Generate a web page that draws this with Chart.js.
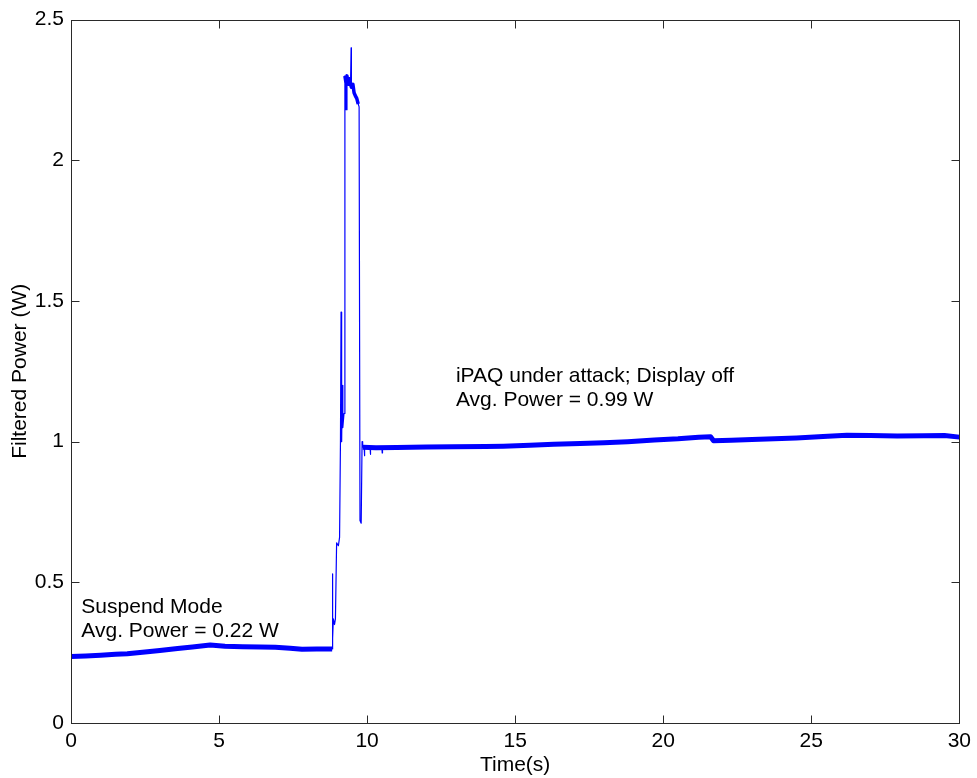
<!DOCTYPE html>
<html>
<head>
<meta charset="utf-8">
<script src="https://cdn.jsdelivr.net/npm/chart.js@4/dist/chart.umd.min.js"></script>
<style>
  html, body { margin: 0; padding: 0; background: #fff; }
  #wrap { width: 977px; height: 778px; }
</style>
</head>
<body>
<div id="wrap"><canvas id="power-chart"></canvas></div>
<script>
// =========================
//  DATA
// =========================
// suspend mode, t = 0 .. 8.82 s
const suspendTime  = [0, 0.5, 1, 1.5, 1.9, 2.5, 3, 3.6, 4.1, 4.7, 5.2, 5.8, 6.4, 6.9, 7.4, 7.8, 8.3, 8.82];
const suspendPower = [0.236, 0.238, 0.241, 0.244, 0.246, 0.252, 0.258, 0.265, 0.27, 0.277, 0.273, 0.271, 0.27, 0.269, 0.266, 0.262, 0.263, 0.263];

// wake-up / attack burst, t = 8.82 .. 10.5 s (incl. the short dips just after it)
const burstTime  = [8.82, 8.83, 8.84, 8.86, 8.9, 8.93, 8.97, 9.03, 9.07, 9.1, 9.12, 9.13, 9.14, 9.15, 9.16, 9.18, 9.22,
                    9.25, 9.28, 9.29, 9.32, 9.36, 9.4, 9.44, 9.46, 9.47, 9.52, 9.56, 9.6, 9.65, 9.7, 9.73,
                    9.76, 9.8, 9.83, 9.85, 9.9, 9.91, 9.92, 10.1, 10.11, 10.12, 10.5, 10.51, 10.52];
const burstPower = [0.263, 0.53, 0.30, 0.37, 0.35, 0.37, 0.64, 0.63, 0.66, 1.0, 1.46, 1.1, 1.27, 1.0, 1.2, 1.05, 1.1,
                    2.30, 2.28, 2.18, 2.30, 2.27, 2.29, 2.27, 2.40, 2.26, 2.27, 2.24, 2.23, 2.22, 2.20, 2.19,
                    0.72, 0.71, 1.0, 0.98, 0.98, 0.95, 0.98, 0.978, 0.955, 0.978, 0.979, 0.96, 0.979];

// attack with display off, t = 9.85 .. 30 s
const attackTime  = [9.85, 10.3, 11, 12, 12.9, 14, 14.6, 15.5, 16.3, 17.2, 18, 18.8, 19.7,
                     20.5, 21.2, 21.6, 21.7, 22.3, 23, 24, 24.5, 25.4, 26.2, 27, 27.9, 28.8, 29.5, 30];
const attackPower = [0.98, 0.978, 0.979, 0.981, 0.982, 0.983, 0.984, 0.987, 0.991, 0.993, 0.996, 1.0, 1.006,
                     1.01, 1.016, 1.017, 1.003, 1.005, 1.008, 1.011, 1.013, 1.018, 1.023, 1.022, 1.02, 1.021, 1.022, 1.016];

const xTicks = { min: 0, max: 30, step: 5 };
const yTicks = { min: 0, max: 2.5, step: 0.5 };

const notes = [
    { x: 0.35, y: 0.39,  lines: ["Suspend Mode", "Avg. Power = 0.22 W"] },
    { x: 13.0, y: 1.213, lines: ["iPAQ under attack; Display off", "Avg. Power = 0.99 W"] }
];

// =========================
//  HELPERS
// =========================
const FONT = "'Liberation Sans', Arial, sans-serif";
const FONT_SIZE = 21;
const LINE_BLUE = "#0000ff";

function toPoints(xs, ys) {
    return xs.map((x, i) => ({ x, y: ys[i] }));
}

function lineSet(points, width) {
    return {
        data: points,
        borderColor: LINE_BLUE,
        borderWidth: width,
        pointRadius: 0,
        tension: 0,
        fill: false,
        borderJoinStyle: "round"
    };
}

// the dense high-power plateau shows up as a thick band (without its single 2.4 W spike and dips)
const plateauPoints = toPoints(burstTime, burstPower)
    .filter(p => p.x >= 9.25 && p.x <= 9.73 && p.y > 2.19 && p.y < 2.35);

// MATLAB-like box with inward ticks on all four sides, plus text notes
const boxPlugin = {
    id: "matlabBox",
    afterDraw(chart) {
        const { ctx, chartArea: a, scales } = chart;
        const L = Math.round(a.left) + 0.5, R = Math.round(a.right) + 0.5;
        const T = Math.round(a.top) + 0.5, B = Math.round(a.bottom) + 0.5;
        const len = 8;
        ctx.save();
        ctx.strokeStyle = "#2a2a2a";
        ctx.lineWidth = 1;
        ctx.strokeRect(L, T, R - L, B - T);
        ctx.beginPath();
        scales.x.ticks.forEach((t, i) => {
            const px = Math.round(scales.x.getPixelForTick(i)) + 0.5;
            ctx.moveTo(px, B); ctx.lineTo(px, B - len);
            ctx.moveTo(px, T); ctx.lineTo(px, T + len);
        });
        scales.y.ticks.forEach((t, i) => {
            const py = Math.round(scales.y.getPixelForTick(i)) + 0.5;
            ctx.moveTo(L, py); ctx.lineTo(L + len, py);
            ctx.moveTo(R, py); ctx.lineTo(R - len, py);
        });
        ctx.stroke();

        ctx.fillStyle = "#000";
        ctx.font = FONT_SIZE + "px " + FONT;
        ctx.textAlign = "left";
        ctx.textBaseline = "alphabetic";
        notes.forEach(n => {
            const px = scales.x.getPixelForValue(n.x);
            const py = scales.y.getPixelForValue(n.y);
            n.lines.forEach((s, k) => ctx.fillText(s, px, py + k * 24));
        });
        ctx.restore();
    }
};

const tickFont = { family: FONT, size: FONT_SIZE };

// =========================
//  CHART
// =========================
new Chart(document.getElementById("power-chart"), {
    type: "line",
    data: {
        datasets: [
            lineSet(toPoints(suspendTime, suspendPower), 5),
            lineSet(toPoints(burstTime, burstPower), 1.2),
            lineSet(plateauPoints, 3.5),
            lineSet(toPoints(attackTime, attackPower), 5)
        ]
    },
    options: {
        responsive: true,
        maintainAspectRatio: false,
        animation: false,
        layout: { padding: { top: 19, right: 14, left: 0, bottom: 0 } },
        plugins: { legend: { display: false }, tooltip: { enabled: false } },
        scales: {
            x: {
                type: "linear",
                min: xTicks.min,
                max: xTicks.max,
                ticks: { stepSize: xTicks.step, color: "#000", font: tickFont, padding: 6, maxRotation: 0,
                         callback: v => String(v) },
                grid: { display: false, drawTicks: false },
                border: { display: false },
                title: { display: true, text: "Time(s)", color: "#000", font: tickFont, padding: { top: 0, bottom: 0 } },
                afterFit(scale) { scale.height = 55; }
            },
            y: {
                type: "linear",
                min: yTicks.min,
                max: yTicks.max,
                ticks: { stepSize: yTicks.step, color: "#000", font: tickFont, padding: 7,
                         callback: v => String(v) },
                grid: { display: false, drawTicks: false },
                border: { display: false },
                title: { display: true, text: "Filtered Power (W)", color: "#000", font: tickFont, padding: { top: 8, bottom: 0 } },
                afterFit(scale) { scale.width = 71; }
            }
        }
    },
    plugins: [boxPlugin]
});
</script>
</body>
</html>
